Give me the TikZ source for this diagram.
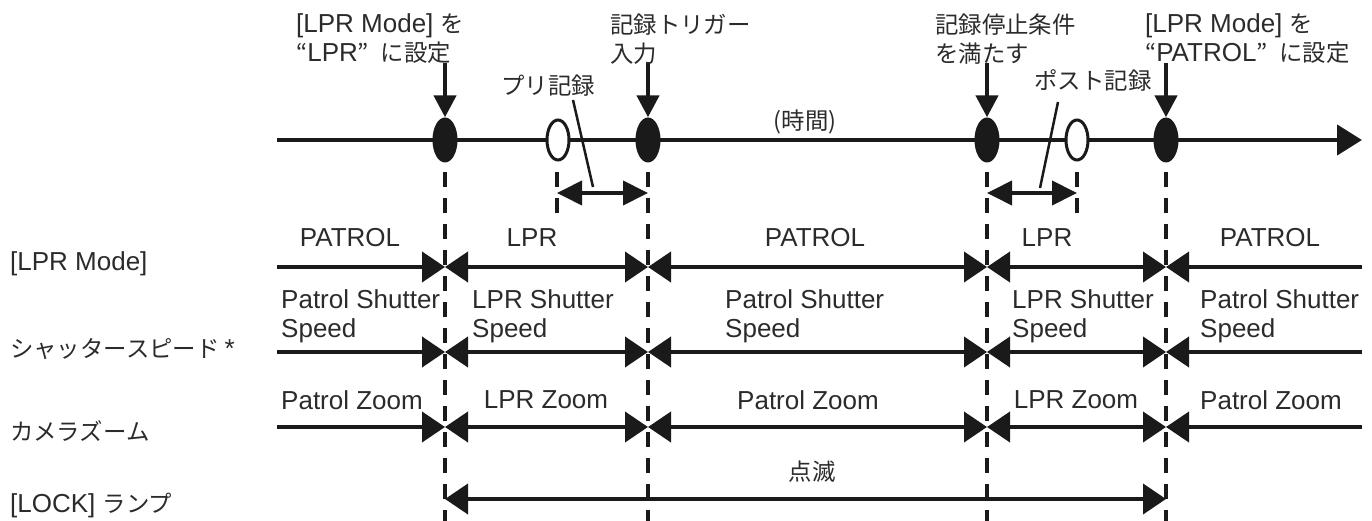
\documentclass[tikz,border=0pt]{standalone}
\usepackage{fontspec}
\setmainfont{Liberation Sans}
\newfontfamily\jp{Noto Sans CJK JP}[Scale=0.9]
\usetikzlibrary{arrows.meta,shapes.geometric}
\definecolor{txt}{HTML}{2B2B2B}
\definecolor{ink}{HTML}{1A1A1A}
\begin{document}
\begin{tikzpicture}[x=1pt,y=-1pt,
  lbl/.style={font=\fontsize{26}{29}\selectfont, text=txt, inner sep=0pt},
  blk/.style={lbl, align=left},
  axis/.style={line width=4.5pt, draw=ink, -{Triangle[length=25pt,width=30pt]}},
  row/.style={line width=4pt, draw=ink},
  tipE/.style={-{Triangle[length=23pt,width=30pt]}},
  tipS/.style={{Triangle[length=23pt,width=30pt]}-},
  tipB/.style={{Triangle[length=23pt,width=30pt]}-{Triangle[length=23pt,width=30pt]}},
  evt/.style={ellipse, fill=ink, minimum width=25pt, minimum height=45pt, inner sep=0pt},
  hole/.style={ellipse, draw=ink, line width=3pt, fill=white, minimum width=22pt, minimum height=40pt, inner sep=0pt},
  guide/.style={line width=4pt, draw=ink, dash pattern=on 15pt off 11pt},
  down/.style={line width=4.5pt, draw=ink, -{Triangle[length=22pt,width=22pt]}},
  span/.style={line width=4pt, draw=ink, {Triangle[length=25pt,width=24pt]}-{Triangle[length=25pt,width=24pt]}},
  slash/.style={line width=2.5pt, draw=ink},
]
\useasboundingbox (0,0) rectangle (1372,521);

% time axis
\coordinate (ax0) at (277,140);
\coordinate (ax1) at (1362,140);
\draw[axis] (ax0) -- (ax1);

% events
\node[evt] (e1) at (445,140) {};
\node[evt] (e2) at (648,140) {};
\node[evt] (e3) at (987,140) {};
\node[evt] (e4) at (1166,140) {};
\node[hole] (h1) at (558,140) {};
\node[hole] (h2) at (1077,140) {};

% down arrows
\coordinate (d1) at (445,63);
\coordinate (d2) at (648,63);
\coordinate (d3) at (987,63);
\coordinate (d4) at (1166,63);
\draw[down] (d1) -- (e1.north);
\draw[down] (d2) -- (e2.north);
\draw[down] (d3) -- (e3.north);
\draw[down] (d4) -- (e4.north);

% slashes
\coordinate (s1a) at (573,100); \coordinate (s1b) at (593,187);
\coordinate (s2a) at (1058,102); \coordinate (s2b) at (1040,188);
\draw[slash] (s1a) -- (s1b);
\draw[slash] (s2a) -- (s2b);

% pre / post spans
\coordinate (p1) at (557,193); \coordinate (p2) at (648,193);
\coordinate (q1) at (987,193); \coordinate (q2) at (1077,193);
\draw[span] (p1) -- (p2);
\draw[span] (q1) -- (q2);

% rows
\foreach \r/\y in {ra/267, rb/352, rc/427}{
  \coordinate (\r0) at (277,\y);
  \coordinate (\r1) at (445,\y);
  \coordinate (\r2) at (648,\y);
  \coordinate (\r3) at (987,\y);
  \coordinate (\r4) at (1166,\y);
  \coordinate (\r5) at (1362,\y);
  \draw[row,tipE] (\r0) -- (\r1);
  \draw[row,tipB] (\r1) -- (\r2);
  \draw[row,tipB] (\r2) -- (\r3);
  \draw[row,tipB] (\r3) -- (\r4);
  \draw[row,tipS] (\r4) -- (\r5);
}
\coordinate (rd1) at (445,499);
\coordinate (rd4) at (1166,499);
\draw[row,tipB] (rd1) -- (rd4);

% dashed guides
\foreach \n/\x in {1/445, 2/648, 3/987, 4/1166}{
  \coordinate (g\n t) at (\x,172);
  \coordinate (g\n b) at (\x,521);
  \draw[guide] (g\n t) -- (g\n b);
}
\coordinate (k1t) at (557,172); \coordinate (k1b) at (557,215);
\coordinate (k2t) at (1077,172); \coordinate (k2b) at (1077,215);
\draw[guide] (k1t) -- (k1b);
\draw[guide] (k2t) -- (k2b);

% top labels
\node[blk, anchor=west] (tA) at (296,39) {[LPR Mode] {\jp を}\\{\jp “}LPR{\jp ”}\kern12pt{\jp に設定}};
\node[blk, anchor=west] (tB) at (610,39) {{\jp 記録トリガー}\\{\jp 入力}};
\node[blk, anchor=west] (tC) at (935,39) {{\jp 記録停止条件}\\{\jp を満たす}};
\node[blk, anchor=west] (tD) at (1145,39) {[LPR Mode] {\jp を}\\{\jp “}PATROL{\jp ”}\kern12pt{\jp に設定}};
\node[lbl] (tPre) at (548,86) {\jp プリ記録};
\node[lbl] (tPost) at (1093,81) {\jp ポスト記録};
\node[lbl] (tTime) at (805,122) {\jp (時間)};

% left labels
\node[lbl, anchor=west] (L1) at (10,264) {[LPR Mode]};
\node[lbl, anchor=west] (L2) at (10,349) {{\jp シャッタースピード}\kern5pt*};
\node[lbl, anchor=west] (L3) at (10,431) {\jp カメラズーム};
\node[lbl, anchor=west] (L4) at (10,505) {[LOCK] {\jp ランプ}};

% row 1 texts
\node[lbl] (a1) at (350,238) {PATROL};
\node[lbl] (a2) at (532,238) {LPR};
\node[lbl] (a3) at (815,238) {PATROL};
\node[lbl] (a4) at (1047,238) {LPR};
\node[lbl] (a5) at (1270,238) {PATROL};

% row 2 texts
\node[blk, anchor=west] (b1) at (281,316) {Patrol Shutter\\Speed};
\node[blk, anchor=west] (b2) at (472,316) {LPR Shutter\\Speed};
\node[blk, anchor=west] (b3) at (725,316) {Patrol Shutter\\Speed};
\node[blk, anchor=west] (b4) at (1012,316) {LPR Shutter\\Speed};
\node[blk, anchor=west] (b5) at (1200,316) {Patrol Shutter\\Speed};

% row 3 texts
\node[lbl] (c1) at (352,400) {Patrol Zoom};
\node[lbl] (c2) at (546,400) {LPR Zoom};
\node[lbl] (c3) at (808,400) {Patrol Zoom};
\node[lbl] (c4) at (1076,400) {LPR Zoom};
\node[lbl] (c5) at (1271,400) {Patrol Zoom};

% row 4 text
\node[lbl] (d0) at (812,472) {\jp 点滅};
\end{tikzpicture}
\end{document}
